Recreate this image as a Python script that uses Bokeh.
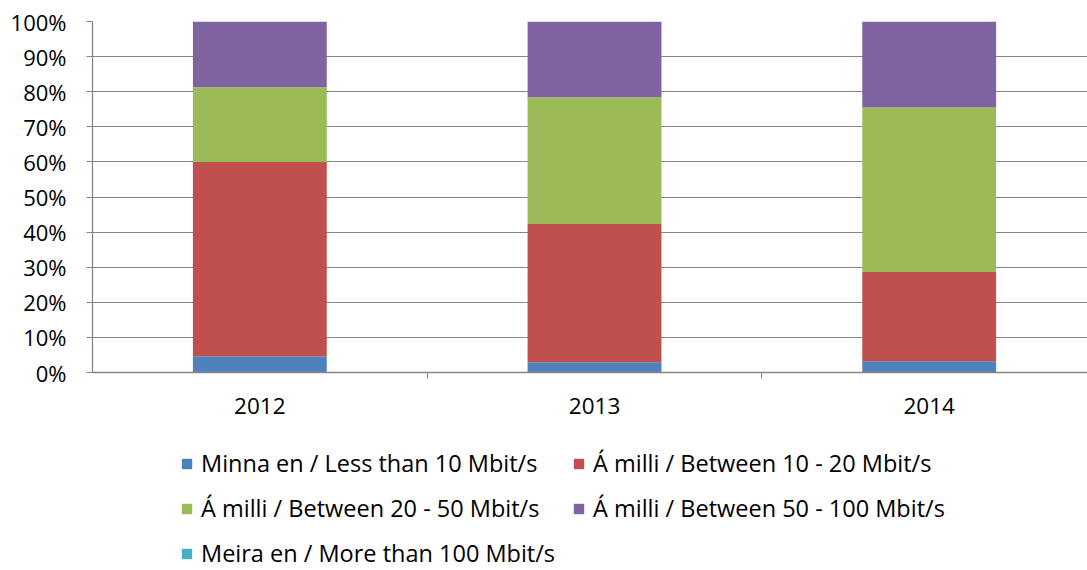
from bokeh.plotting import figure
from bokeh.layouts import column
from bokeh.models import ColumnDataSource, Range1d, FixedTicker, NumeralTickFormatter, Legend, LegendItem
from bokeh.embed import file_html
from bokeh.resources import INLINE

years = ["2012", "2013", "2014"]
less_10 = [0.046, 0.029, 0.032]
btw_10_20 = [0.554, 0.394, 0.254]
btw_20_50 = [0.213, 0.361, 0.469]
btw_50_100 = [0.187, 0.216, 0.245]
more_100 = [0.0, 0.0, 0.0]

labels = [
    "Minna en / Less than 10 Mbit/s",
    "Á milli / Between 10 - 20 Mbit/s",
    "Á milli / Between 20 - 50 Mbit/s",
    "Á milli / Between 50 - 100 Mbit/s",
    "Meira en / More than 100 Mbit/s",
]
colors = ["#4F81BD", "#C0504D", "#9BBB59", "#8064A2", "#4BACC6"]
keys = ["s0", "s1", "s2", "s3", "s4"]

xs = [i + 1 for i in range(len(years))]
source = ColumnDataSource(dict(x=xs, s0=less_10, s1=btw_10_20, s2=btw_20_50, s3=btw_50_100, s4=more_100))

FONT = "Open Sans"
GRID = "#868686"

p = figure(width=1087, height=438, output_backend="svg", toolbar_location=None,
           x_range=Range1d(0.5, 3.473), y_range=Range1d(0, 1))
p.min_border_left = 92
p.min_border_right = 0
p.min_border_top = 21
p.min_border_bottom = 66
p.outline_line_color = None

renderers = p.vbar_stack(keys, x="x", width=0.4, source=source, color=colors, line_color=None)

# axes
p.yaxis.ticker = FixedTicker(ticks=[i / 10 for i in range(11)])
p.yaxis.formatter = NumeralTickFormatter(format="0%")
p.yaxis.axis_line_color = GRID
p.yaxis.axis_line_width = 1.3
p.yaxis.major_tick_line_color = GRID
p.yaxis.major_tick_in = 0
p.yaxis.major_tick_out = 6
p.yaxis.minor_tick_line_color = None
p.yaxis.major_label_standoff = 20
p.yaxis.major_label_text_font = FONT
p.yaxis.major_label_text_font_size = "22px"
p.yaxis.major_label_text_color = "#000000"

p.xaxis.ticker = FixedTicker(ticks=xs, minor_ticks=[1.5, 2.5])
p.xaxis.major_label_overrides = {x: y for x, y in zip(xs, years)}
p.xaxis.axis_line_color = GRID
p.xaxis.axis_line_width = 1.3
p.xaxis.major_tick_line_color = None
p.xaxis.major_tick_out = 6
p.xaxis.minor_tick_line_color = GRID
p.xaxis.minor_tick_in = 0
p.xaxis.minor_tick_out = 6
p.xaxis.major_label_standoff = 19
p.xaxis.major_label_text_font = FONT
p.xaxis.major_label_text_font_size = "22.5px"
p.xaxis.major_label_text_color = "#000000"

p.xgrid.grid_line_color = None
p.ygrid.grid_line_color = GRID
p.ygrid.grid_line_width = 1

# legend figure (bars drawn out of its view; only legend shows)
p2 = figure(width=1087, height=132, output_backend="svg", toolbar_location=None,
            x_range=Range1d(0.5, 3.5), y_range=Range1d(10, 11),
            x_axis_type=None, y_axis_type=None)
p2.min_border = 0
p2.outline_line_color = None
p2.xgrid.grid_line_color = None
p2.ygrid.grid_line_color = None
lrenderers = p2.vbar_stack(keys, x="x", width=0.4, source=source, color=colors, line_color=None)


def make_legend(idx, loc):
    items = [LegendItem(label=labels[i], renderers=[lrenderers[i]]) for i in idx]
    lg = Legend(items=items, location=loc, orientation="vertical")
    lg.label_text_font = FONT
    lg.label_text_font_size = "23.5px"
    lg.label_text_color = "#000000"
    lg.glyph_width = 13
    lg.glyph_height = 13
    lg.label_height = 32
    lg.label_standoff = 8
    lg.spacing = 13
    lg.padding = 0
    lg.margin = 0
    lg.border_line_color = None
    lg.background_fill_alpha = 0
    return lg


p2.add_layout(make_legend([0, 2, 4], (88, 1)))
p2.add_layout(make_legend([1, 3], (480, 46)))

layout = column(p, p2, spacing=0)
open("out.html", "w").write(file_html(layout, INLINE))
